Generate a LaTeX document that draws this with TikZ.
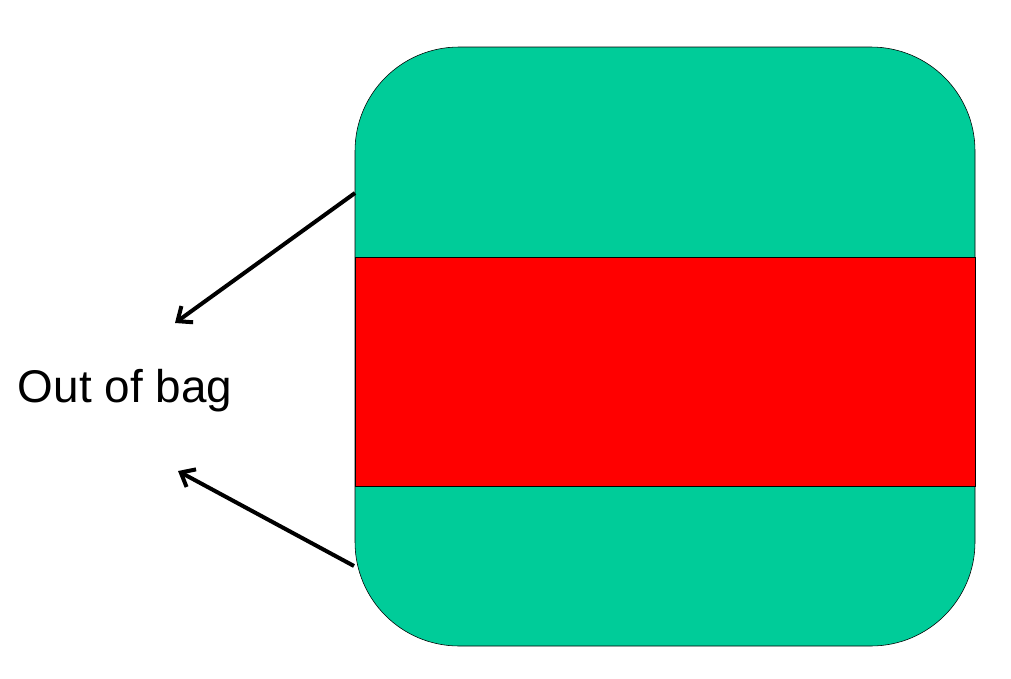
\documentclass[tikz,border=0pt]{standalone}
\usepackage{fontspec}
\setmainfont{Liberation Sans}
\usetikzlibrary{arrows.meta}
\definecolor{baggreen}{RGB}{0,204,153}
\tikzset{
	outarrow/.style={line width=0.1cm, -{Straight Barb[length=0.3cm,width=0.5cm]}},
}

\begin{document}
\begin{tikzpicture}[x=0.025cm, y=-0.025cm]
			%%%%% START %%%%%
			\useasboundingbox (0, 0) rectangle (1011, 678);
			
			\draw[fill=baggreen, rounded corners=2.6cm] (355, 47) rectangle (975, 646);
			\draw[fill=red] (355, 257) rectangle (975, 486);
			
			\node (oob) at (125, 391) {\fontsize{32.6}{38}\selectfont Out of bag};
			
			\coordinate (topedge) at (355, 193);
			\coordinate (topend) at (175, 323);
			\coordinate (botedge) at (354, 566);
			\coordinate (botend) at (178, 471);
			
			\draw[outarrow] (topedge) -- (topend);
			\draw[outarrow] (botedge) -- (botend);
			
			%%%%% END %%%%%
		\end{tikzpicture}
\end{document}
